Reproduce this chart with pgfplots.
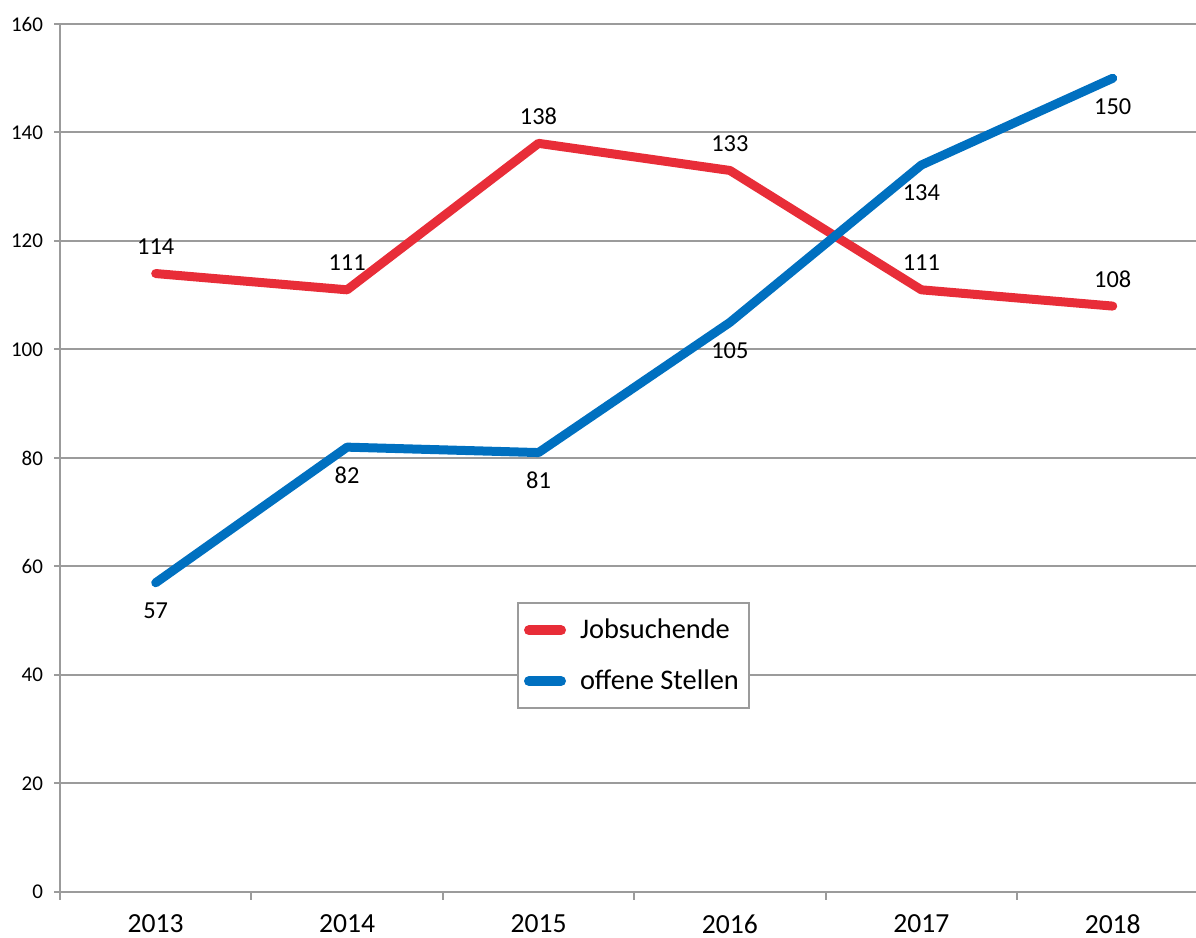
\documentclass[border=0pt]{standalone}
\usepackage{fontspec}
\setmainfont{Carlito}
\usepackage{pgfplots}
\pgfplotsset{compat=1.18}
\definecolor{jobred}{RGB}{232,45,56}
\definecolor{jobblue}{RGB}{0,112,192}
\definecolor{gridgray}{RGB}{155,155,155}
\begin{document}
\begin{tikzpicture}
\begin{axis}[
  at={(0,0)}, anchor=south west,
  scale only axis=true,
  width=568pt, height=434pt,
  xmin=-0.5, xmax=5.435,
  ymin=0, ymax=160,
  ytick={0,20,...,160},
  xtick={0,...,5},
  xticklabels={2013,2014,2015,2016,2017,2018},
  minor xtick={-0.5,0.5,...,4.5},
  major x tick style={draw=none},
  minor x tick style={draw=gridgray, line width=1pt},
  minor tick length=4pt,
  major tick length=3pt,
  tick align=outside,
  axis x line*=bottom,
  axis y line*=left,
  axis line style={draw=gridgray, line width=1pt, -},
  ymajorgrids=true,
  grid style={draw=gridgray, line width=1pt},
  y tick style={draw=gridgray, line width=1pt},
  /pgf/number format/assume math mode=true,
  yticklabel style={font=\fontsize{10.5}{12}\selectfont, xshift=-2pt},
  xticklabel style={font=\fontsize{13.8}{16}\selectfont, yshift=-5pt},
  clip=false,
  legend style={at={(0.4023,0.3341)}, anchor=north west, draw=gridgray, line width=1pt,
    fill=white, font=\fontsize{14.2}{17}\selectfont, inner xsep=3pt, inner ysep=6pt,
    row sep=10pt, column sep=5pt, cells={anchor=west}},
  legend cell align=left,
  legend image code/.code={\draw[#1, line width=5pt, line cap=round] (0pt,0pt) -- (16pt,0pt);},
  nodes near coords,
  every node near coord/.append style={font=\fontsize{12.2}{14}\selectfont, text=black, anchor=center},
]
\addplot[color=jobred, line width=4.5pt, line cap=round, line join=round,
  every node near coord/.append style={yshift=13.5pt}]
  coordinates {(0,114) (1,111) (2,138) (3,133) (4,111) (5,108)};
\addlegendentry{Jobsuchende}
\addplot[color=jobblue, line width=4.5pt, line cap=round, line join=round,
  every node near coord/.append style={yshift=-14pt}]
  coordinates {(0,57) (1,82) (2,81) (3,105) (4,134) (5,150)};
\addlegendentry{offene Stellen}
\end{axis}
\pgfresetboundingbox
\path (-30pt,-23pt) rectangle (568pt,446pt);
\end{tikzpicture}
\end{document}
